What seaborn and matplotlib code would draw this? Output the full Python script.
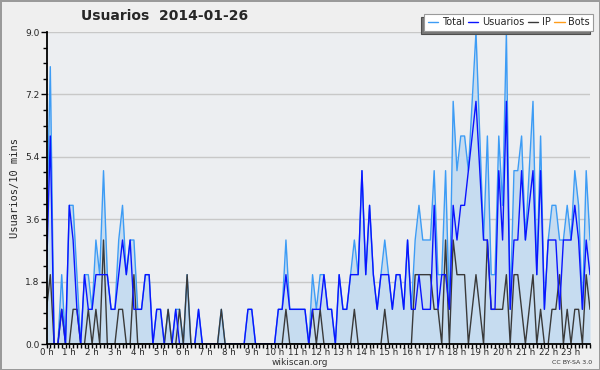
import numpy as np
import pandas as pd
import matplotlib
matplotlib.use("Agg")
import matplotlib.pyplot as plt
from matplotlib.lines import Line2D
from matplotlib.ticker import MultipleLocator
import seaborn as sns

# === DATA (users per 10 minutes, 144 slots) ===
USUARIOS = [
    2, 6, 0, 0, 1, 0, 4, 3, 1, 0, 2, 1,
    1, 2, 2, 2, 2, 1, 1, 2, 3, 2, 3, 1,
    1, 1, 2, 2, 0, 1, 1, 0, 0, 0, 1, 0,
    0, 0, 0, 0, 1, 0, 0, 0, 0, 0, 0, 0,
    0, 0, 0, 0, 0, 1, 1, 0, 0, 0, 0, 0,
    0, 1, 1, 2, 1, 1, 1, 1, 1, 0, 1, 1,
    1, 2, 1, 1, 0, 2, 1, 1, 2, 2, 2, 5,
    2, 4, 2, 1, 2, 2, 2, 1, 2, 2, 1, 3,
    1, 1, 2, 1, 1, 1, 4, 1, 2, 2, 1, 4,
    3, 4, 4, 5, 6, 7, 5, 3, 3, 1, 1, 5,
    3, 7, 1, 3, 3, 5, 3, 4, 5, 2, 5, 1,
    3, 3, 3, 1, 3, 3, 3, 4, 3, 1, 3, 2,
]
IP = [
    1, 2, 0, 0, 1, 0, 0, 1, 1, 0, 0, 1,
    0, 1, 0, 3, 0, 0, 0, 1, 1, 0, 0, 2,
    0, 0, 0, 0, 0, 0, 0, 0, 1, 0, 0, 1,
    0, 2, 0, 0, 0, 0, 0, 0, 0, 0, 1, 0,
    0, 0, 0, 0, 0, 0, 0, 0, 0, 0, 0, 0,
    0, 0, 0, 1, 0, 0, 0, 0, 0, 0, 1, 0,
    1, 0, 0, 0, 0, 0, 0, 0, 0, 1, 0, 0,
    0, 0, 0, 0, 0, 1, 0, 0, 0, 0, 0, 0,
    0, 2, 2, 2, 2, 2, 1, 1, 0, 3, 0, 3,
    2, 2, 2, 0, 1, 2, 1, 0, 3, 1, 1, 1,
    1, 2, 0, 2, 2, 1, 0, 1, 2, 0, 1, 0,
    0, 1, 1, 2, 0, 1, 0, 1, 1, 0, 2, 1,
]
TOTAL = [
    3, 8, 0, 0, 2, 0, 4, 4, 2, 0, 2, 2,
    1, 3, 2, 5, 2, 1, 1, 3, 4, 2, 3, 3,
    1, 1, 2, 2, 0, 1, 1, 0, 1, 0, 1, 1,
    0, 2, 0, 0, 1, 0, 0, 0, 0, 0, 1, 0,
    0, 0, 0, 0, 0, 1, 1, 0, 0, 0, 0, 0,
    0, 1, 1, 3, 1, 1, 1, 1, 1, 0, 2, 1,
    2, 2, 1, 1, 0, 2, 1, 1, 2, 3, 2, 5,
    2, 4, 2, 1, 2, 3, 2, 1, 2, 2, 1, 3,
    1, 3, 4, 3, 3, 3, 5, 2, 2, 5, 1, 7,
    5, 6, 6, 5, 7, 9, 6, 3, 6, 2, 2, 6,
    4, 9, 1, 5, 5, 6, 3, 5, 7, 2, 6, 1,
    3, 4, 4, 3, 3, 4, 3, 5, 4, 1, 5, 3,
]
BOTS = [0] * 144
HOUR_LABELS = [f"{h} h" for h in range(24)]
Y_TICKS = [0.0, 1.8, 3.6, 5.4, 7.2, 9.0]

# === COLOURS ===
C_TOTAL = "#3d9cf5"
C_FILL = "#c6dcf0"
C_USERS = "#0a14ff"
C_IP = "#3a3a3a"
C_BOTS = "#ff9d1a"

df = pd.DataFrame({
    "hora": np.arange(len(TOTAL)) / 6,
    "Total": TOTAL,
    "Usuarios": USUARIOS,
    "IP": IP,
    "Bots": BOTS,
})

sns.set_theme(style="white")
plt.rcParams["font.family"] = ["DejaVu Sans"]

fig = plt.figure(figsize=(6, 3.7), dpi=100)
fig.patch.set_facecolor("#efefef")
fig.patch.set_edgecolor("#9a9a9a")
fig.patch.set_linewidth(2)
ax = fig.add_axes([46.5 / 600, 1 - 344 / 370, (590 - 46.5) / 600, (344 - 32) / 370])
ax.set_facecolor("#eceef1")

ax.fill_between(df["hora"], df["Total"], color=C_FILL, lw=0, zorder=1)
sns.lineplot(data=df, x="hora", y="Bots", color=C_BOTS, lw=1, ax=ax, zorder=1.5)
sns.lineplot(data=df, x="hora", y="Total", color=C_TOTAL, lw=1, ax=ax, zorder=3)
sns.lineplot(data=df, x="hora", y="IP", color=C_IP, lw=1, ax=ax, zorder=4)
sns.lineplot(data=df, x="hora", y="Usuarios", color=C_USERS, lw=1, ax=ax, zorder=5)

ax.set_xlim(0, df["hora"].iloc[-1])
ax.set_ylim(0, 9)
ax.set_xticks(range(24))
ax.set_xticklabels(HOUR_LABELS)
ax.xaxis.set_minor_locator(MultipleLocator(1 / 6))
ax.set_yticks(Y_TICKS)
ax.set_yticklabels([f"{v:.1f}" for v in Y_TICKS])
ax.yaxis.set_minor_locator(MultipleLocator(0.45))
ax.grid(axis="y", color="#c8c8c8", lw=1)
ax.set_axisbelow(True)

ax.tick_params(which="major", length=4, width=1, labelsize=6.5, pad=1, color="black", direction="out")
ax.tick_params(which="minor", length=3, width=1, color="black", direction="out")
ax.tick_params(axis="x", which="major", length=3, labelsize=6.2, pad=0)
ax.tick_params(axis="x", which="both", bottom=True)
ax.tick_params(axis="y", which="both", left=True)
for side in ["top", "right"]:
    ax.spines[side].set_visible(False)
for side in ["left", "bottom"]:
    ax.spines[side].set_color("black")
    ax.spines[side].set_linewidth(1.3)
    ax.spines[side].set_zorder(6)

ax.set_xlabel("")
ax.set_ylabel("Usuarios/10 mins", fontsize=7.5, family="DejaVu Sans Mono", labelpad=4)

fig.text(165 / 600, 1 - 16 / 370, "Usuarios  2014-01-26", fontsize=10, fontweight="bold",
         ha="center", va="center")
fig.text(300 / 600, 1 - 362.5 / 370, "wikiscan.org", fontsize=6.5, ha="center", va="center", color="#333333")
fig.text(592 / 600, 1 - 362.5 / 370, "CC BY-SA 3.0", fontsize=4.5, ha="right", va="center", color="#333333")

handles = [Line2D([], [], color=c, lw=1) for c in [C_TOTAL, C_USERS, C_IP, C_BOTS]]
leg = fig.legend(handles, ["Total", "Usuarios", "IP", "Bots"], loc="upper right",
                 bbox_to_anchor=(593 / 600, 1 - 14 / 370), ncol=4, fontsize=7,
                 handlelength=1.1, handletextpad=0.35, columnspacing=0.35,
                 borderpad=0.35, borderaxespad=0, fancybox=False, framealpha=1,
                 shadow={"ox": -2, "oy": -2, "facecolor": "#777777", "alpha": 1})
leg.get_frame().set_edgecolor("#9a9a9a")
leg.get_frame().set_linewidth(0.8)

plt.savefig("out.png", dpi=100, facecolor=fig.get_facecolor(), edgecolor=fig.get_edgecolor())
plt.close()
